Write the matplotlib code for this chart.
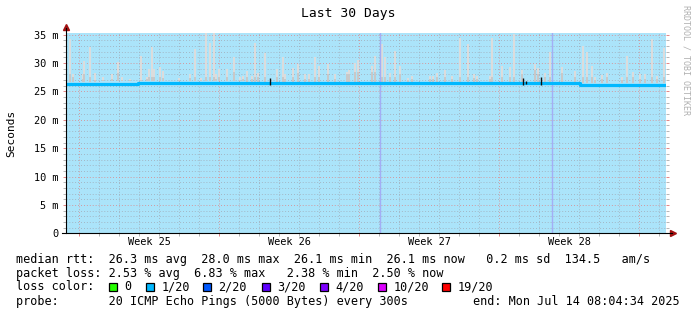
import numpy as np
import matplotlib
matplotlib.use("Agg")
import matplotlib.pyplot as plt
from matplotlib.patches import Rectangle

# ---- data (x in days since start, y in ms) ----
median_day = [0.0, 3.6, 25.7, 30.0]
median_ms = [26.3, 26.5, 26.1, 26.1]

spike_day = [0.2, 0.33, 0.85, 0.9, 1.2, 1.45, 1.85, 2.3, 2.6, 2.8, 3.2, 3.75,
             4.05, 4.15, 4.3, 4.4, 4.7, 4.85, 5.65, 6.2, 6.45, 6.75, 7.0, 7.2,
             7.4, 7.5, 7.65, 8.05, 8.4, 8.7, 8.85, 9.05, 9.3, 9.45, 9.6, 9.95,
             10.55, 10.85, 10.95, 11.35, 11.6, 11.95, 12.15, 12.45, 12.65, 13.1,
             13.45, 14.05, 14.15, 14.45, 14.6, 15.3, 15.45, 15.8, 15.95, 16.2,
             16.45, 16.7, 17.1, 17.3, 18.2, 18.35, 18.55, 18.95, 19.3, 19.7,
             20.1, 20.4, 20.55, 21.2, 21.3, 21.8, 22.2, 22.4, 22.8, 23.45, 23.6,
             23.95, 24.2, 24.8, 25.45, 25.85, 26.05, 26.3, 26.45, 26.8, 27.05,
             27.8, 28.05, 28.35, 28.7, 28.95, 29.3, 29.55, 29.9]
spike_top = [34.2, 28.0, 28.0, 30.3, 32.9, 28.3, 27.5, 28.0, 30.2, 27.5, 27.2, 31.3,
             27.5, 29.0, 32.8, 29.0, 29.3, 28.6, 27.4, 28.0, 32.5, 27.4, 35.5, 33.6,
             35.5, 28.0, 28.9, 28.9, 31.0, 27.5, 27.8, 28.6, 27.8, 33.5, 28.2, 31.8,
             29.0, 31.0, 28.0, 29.2, 29.8, 28.0, 28.0, 31.0, 29.5, 29.9,
             28.0, 28.5, 28.8, 30.1, 30.5, 29.5, 31.3, 33.3, 31.0, 28.3,
             32.2, 29.5, 27.3, 27.8, 27.8, 27.8, 28.2, 28.7, 27.8, 34.4,
             33.4, 28.0, 27.8, 27.8, 34.5, 29.5, 29.3, 35.2, 28.8, 29.9, 29.2,
             28.2, 32.0, 29.3, 28.6, 33.0, 32.0, 29.5, 27.6, 27.9, 28.3,
             27.6, 31.3, 28.4, 28.0, 28.0, 34.2, 27.8, 32.6]
spike_mid = [28.0, 27.5, 27.2, 28.0, 27.5, 27.0, 27.0, 27.2, 28.2, 27.0, 27.0, 27.0,
             27.2, 27.5, 27.5, 27.5, 27.5, 27.3, 27.0, 27.3, 27.5, 27.0, 27.5, 27.5,
             27.5, 27.2, 27.5, 27.5, 28.5, 27.0, 27.2, 27.5, 27.2, 27.5, 27.5, 27.5,
             27.5, 27.5, 27.2, 27.5, 28.2, 27.2, 27.2, 27.5, 27.5, 28.0,
             27.2, 28.0, 28.0, 28.5, 28.5, 28.5, 28.5, 27.5, 27.5, 27.5,
             27.5, 28.0, 27.0, 27.2, 27.2, 27.2, 27.5, 27.5, 27.2, 27.5,
             27.5, 27.3, 27.2, 27.2, 27.5, 27.5, 27.5, 27.5, 28.0, 28.8, 28.0,
             27.5, 27.5, 28.2, 27.5, 27.5, 27.5, 27.5, 27.0, 27.2, 27.5,
             27.0, 27.5, 27.5, 27.2, 27.2, 27.5, 27.2, 27.5]

loss_day = [10.2, 22.85, 23.0, 23.75]
loss_lo = [26.2, 26.2, 26.3, 26.2]
loss_hi = [27.4, 27.3, 26.9, 27.6]

marker_day = [15.7, 24.3]

week_labels = ["Week 25", "Week 26", "Week 27", "Week 28"]
y_labels = ["0", "5 m", "10 m", "15 m", "20 m", "25 m", "30 m", "35 m"]

loss_names = ["0", "1/20", "2/20", "3/20", "4/20", "10/20", "19/20"]
loss_colors = ["#26ff00", "#00b8ff", "#0059ff", "#5e00ff", "#7e00ff", "#dd00ff", "#ff0000"]

W, H = 697, 315
mono = "DejaVu Sans Mono"

fig = plt.figure(figsize=(W / 100, H / 100), dpi=100)
fig.patch.set_facecolor("white")
ax = fig.add_axes([66 / W, (H - 233.3) / H, 600 / W, 200.3 / H])
ax.set_facecolor("#abe4fa")
ax.set_xlim(0, 30)
ax.set_ylim(0, 35.3)

# grid
week_lines = [0.663 + 7 * k for k in range(5)]
day_lines = [0.663 + k for k in range(30) if k % 7 != 0]
ax.set_xticks(week_lines)
ax.set_xticks(day_lines, minor=True)
ax.set_xticklabels([])
ax.set_yticks(np.arange(0, 36, 5))
ax.set_yticks([v for v in range(1, 36) if v % 5 != 0], minor=True)
ax.set_yticklabels(y_labels, fontfamily=mono, fontsize=7.4)
ax.grid(which="minor", color="#a0a8b4", linestyle=(0, (1, 2.5)), linewidth=0.6)
ax.grid(which="major", color="#e08080", linestyle=(0, (1, 2.5)), linewidth=0.6)
ax.set_axisbelow(True)
ax.tick_params(which="both", direction="out", length=2.5, width=0.6, pad=3,
               right=True, bottom=True, left=True)
ax.tick_params(which="major", color="#e07070")
ax.tick_params(which="minor", color="#aaaaaa")
for s in ax.spines.values():
    s.set_visible(False)

# smoke
base = [m + 0.35 for m in np.interp(spike_day, median_day[:-1], median_ms[:-1])]
ax.bar(spike_day, np.array(spike_top) - np.array(base), bottom=base, width=0.11,
       color="#dcdcdc", linewidth=0, zorder=2)
ax.bar(spike_day, np.maximum(np.array(spike_mid) - np.array(base), 0), bottom=base,
       width=0.11, color="#c8c8c8", linewidth=0, zorder=2)

for d in marker_day:
    ax.axvline(d, color="#a3aef5", linewidth=1.0, zorder=2.5)

# median rtt
ax.step(median_day, median_ms, where="post", color="#00b8ff", linewidth=2.3,
        solid_capstyle="butt", zorder=3)
ax.vlines(loss_day, loss_lo, loss_hi, color="#101010", linewidth=1.0, zorder=3.5)

# axes with arrows
ax.plot([0, 0], [0, 1.025], color="black", lw=0.8, transform=ax.transAxes, clip_on=False, zorder=4)
ax.plot([-0.007, 1.01], [0, 0], color="black", lw=0.8, transform=ax.transAxes, clip_on=False, zorder=4)
ax.plot([0], [1.03], marker="^", color="#a01010", markersize=4, transform=ax.transAxes, clip_on=False)
ax.plot([1.012], [0], marker=">", color="#a01010", markersize=4, transform=ax.transAxes, clip_on=False)

for k, lab in enumerate(week_labels):
    ax.text(week_lines[k] + 3.5, -0.042, lab, transform=ax.get_xaxis_transform(),
            ha="center", va="center", fontfamily=mono, fontsize=7.4)

# titles
fig.text(348 / W, 1 - 14 / H, "Last 30 Days", ha="center", va="center",
         fontfamily=mono, fontsize=9.4)
fig.text(11 / W, 1 - 133 / H, "Seconds", rotation=90, ha="center", va="center",
         fontfamily=mono, fontsize=8)
fig.text(686 / W, 1 - 5 / H, "RRDTOOL / TOBI OETIKER", rotation=270, ha="center",
         va="top", fontfamily=mono, fontsize=6, color="#b0b0b0")

# legend
def ftext(x, y, s, **kw):
    fig.text(x / W, 1 - y / H, s, ha="left", va="center", fontfamily=mono,
             fontsize=8.45, **kw)

ftext(16, 259.3, "median rtt:  26.3 ms avg  28.0 ms max  26.1 ms min  26.1 ms now   0.2 ms sd  134.5   am/s")
ftext(16, 273.3, "packet loss: 2.53 % avg  6.83 % max   2.38 % min  2.50 % now")
ftext(16, 287.0, "loss color:")
box_x = [108.5, 145.7, 203, 261.7, 320, 377.7, 442]
for bx, name, col in zip(box_x, loss_names, loss_colors):
    fig.patches.append(Rectangle((bx / W, 1 - 291 / H), 8 / W, 8 / H, facecolor=col,
                                 edgecolor="black", linewidth=0.9,
                                 transform=fig.transFigure, figure=fig))
    ftext(bx + 15.5, 287.0, name)
ftext(16, 301.7, "probe:       20 ICMP Echo Pings (5000 Bytes) every 300s")
fig.text(680 / W, 1 - 301.7 / H, "end: Mon Jul 14 08:04:34 2025", ha="right",
         va="center", fontfamily=mono, fontsize=8.45)

fig.savefig("out.png", dpi=100)
